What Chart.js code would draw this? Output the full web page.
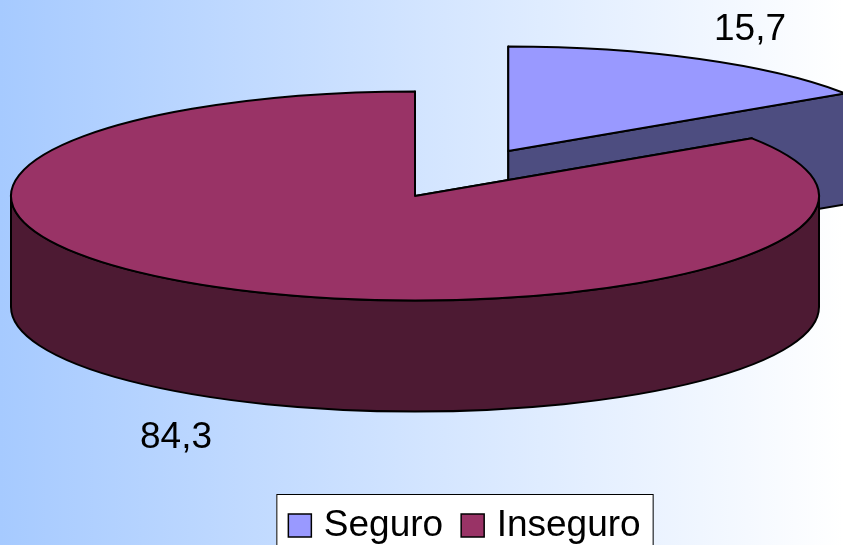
<!DOCTYPE html>
<html>
<head>
<meta charset="utf-8">
<title>Seguro / Inseguro</title>
<script src="https://cdn.jsdelivr.net/npm/chart.js@4/dist/chart.umd.js"></script>
<style>
  html, body { margin: 0; padding: 0; background: #fff; overflow: hidden; }
  canvas { display: block; }
</style>
</head>
<body>
<canvas id="chart" width="843" height="545"></canvas>
<script>
const categories = ['Seguro', 'Inseguro']
const values = [15.7, 84.3]

const topColors = ['#9999ff', '#993366']
const wallColors = ['#4d4d80', '#4d1a33']

const FONT = '37px "Liberation Sans"'

// Draws the tilted pie: side walls first, then the library's own arc on top
const pie3dPlugin = {
  id: 'pie3d',
  beforeDraw(chart, args, opts) {
    const { ctx, width, height } = chart
    const grad = ctx.createLinearGradient(0, 0, width, 0)
    grad.addColorStop(0, '#a6caff')
    grad.addColorStop(1, '#ffffff')
    ctx.fillStyle = grad
    ctx.fillRect(0, 0, width, height)

    // Legend frame around the library's legend items
    const boxes = chart.legend.legendHitBoxes
    const left = boxes[0].left - opts.legendPad
    const right = boxes[boxes.length - 1].left + boxes[boxes.length - 1].width + opts.legendPad
    ctx.fillStyle = '#fff'
    ctx.strokeStyle = '#000'
    ctx.lineWidth = 1
    ctx.fillRect(left, opts.legendTop, right - left, height)
    ctx.strokeRect(left + 0.5, opts.legendTop + 0.5, right - left, height)
  },
  beforeDatasetDraw(chart, args, opts) {
    const { ctx } = chart
    const arcs = args.meta.data

    arcs.forEach((arc, i) => {
      const { x, y, startAngle, endAngle, outerRadius } = arc
      const mid = (startAngle + endAngle) / 2
      const ry = outerRadius * opts.tilt
      const cx = opts.cx + Math.cos(mid) * opts.explode[i]
      const cy = opts.cy + Math.sin(mid) * opts.explode[i] * opts.tilt
      const d = opts.depth

      ctx.save()
      ctx.lineWidth = opts.lineWidth
      ctx.lineJoin = 'round'
      ctx.strokeStyle = '#000'
      ctx.fillStyle = wallColors[i]

      // Radial cut faces
      for (const a of [startAngle, endAngle]) {
        ctx.beginPath()
        ctx.moveTo(cx, cy)
        ctx.lineTo(cx + Math.cos(a) * outerRadius, cy + Math.sin(a) * ry)
        ctx.lineTo(cx + Math.cos(a) * outerRadius, cy + Math.sin(a) * ry + d)
        ctx.lineTo(cx, cy + d)
        ctx.closePath()
        ctx.fill()
        ctx.stroke()
      }

      // Curved front wall, only the part of the rim facing the viewer
      const from = Math.max(startAngle, 0)
      const to = Math.min(endAngle, Math.PI)
      if (to > from) {
        ctx.beginPath()
        ctx.ellipse(cx, cy, outerRadius, ry, 0, from, to)
        ctx.ellipse(cx, cy + d, outerRadius, ry, 0, to, from, true)
        ctx.closePath()
        ctx.fill()
        ctx.stroke()
      }

      // Top face
      ctx.save()
      ctx.translate(cx, cy)
      ctx.scale(1, opts.tilt)
      ctx.translate(-x, -y)
      arc.draw(ctx)
      ctx.restore()

      ctx.beginPath()
      ctx.moveTo(cx, cy)
      ctx.ellipse(cx, cy, outerRadius, ry, 0, startAngle, endAngle)
      ctx.closePath()
      ctx.stroke()
      ctx.restore()
    })
    return false
  },
  afterDraw(chart, args, opts) {
    const { ctx } = chart

    // Legend swatches, sized apart from the text gap the legend leaves
    chart.legend.legendHitBoxes.forEach((box, i) => {
      const mid = box.top + box.height / 2
      ctx.fillStyle = topColors[i]
      ctx.strokeStyle = '#000'
      ctx.lineWidth = 1.5
      ctx.fillRect(box.left, mid - opts.swatch / 2, opts.swatch, opts.swatch)
      ctx.strokeRect(box.left, mid - opts.swatch / 2, opts.swatch, opts.swatch)
    })

    // Value labels
    ctx.fillStyle = '#000'
    ctx.font = FONT
    ctx.textAlign = 'center'
    ctx.textBaseline = 'alphabetic'
    values.forEach((v, i) => {
      ctx.fillText(String(v).replace('.', ','), opts.labelX[i], opts.labelY[i])
    })
  },
}

new Chart(document.getElementById('chart'), {
  type: 'pie',
  data: {
    labels: categories,
    datasets: [{
      data: values,
      backgroundColor: topColors,
      borderWidth: 0,
      clip: false,
    }],
  },
  options: {
    responsive: false,
    animation: false,
    events: [],
    radius: 404,
    layout: { padding: { left: 86, bottom: -9 } },
    plugins: {
      tooltip: { enabled: false },
      legend: {
        position: 'bottom',
        labels: {
          color: '#000',
          font: { family: '"Liberation Sans"', size: 37 },
          boxWidth: 17,
          boxHeight: 23,
          padding: 18,
          generateLabels: () => categories.map(text => ({
            text,
            fontColor: '#000',
            fillStyle: 'transparent',
            strokeStyle: 'transparent',
            lineWidth: 0,
          })),
        },
      },
      pie3d: {
        cx: 415,
        cy: 196,
        tilt: 0.2587,
        depth: 111,
        lineWidth: 2,
        explode: [197, 0],
        labelX: [750, 176],
        labelY: [40, 448],
        legendPad: 12,
        legendTop: 494,
        swatch: 23,
      },
    },
  },
  plugins: [pie3dPlugin],
})
</script>
</body>
</html>
